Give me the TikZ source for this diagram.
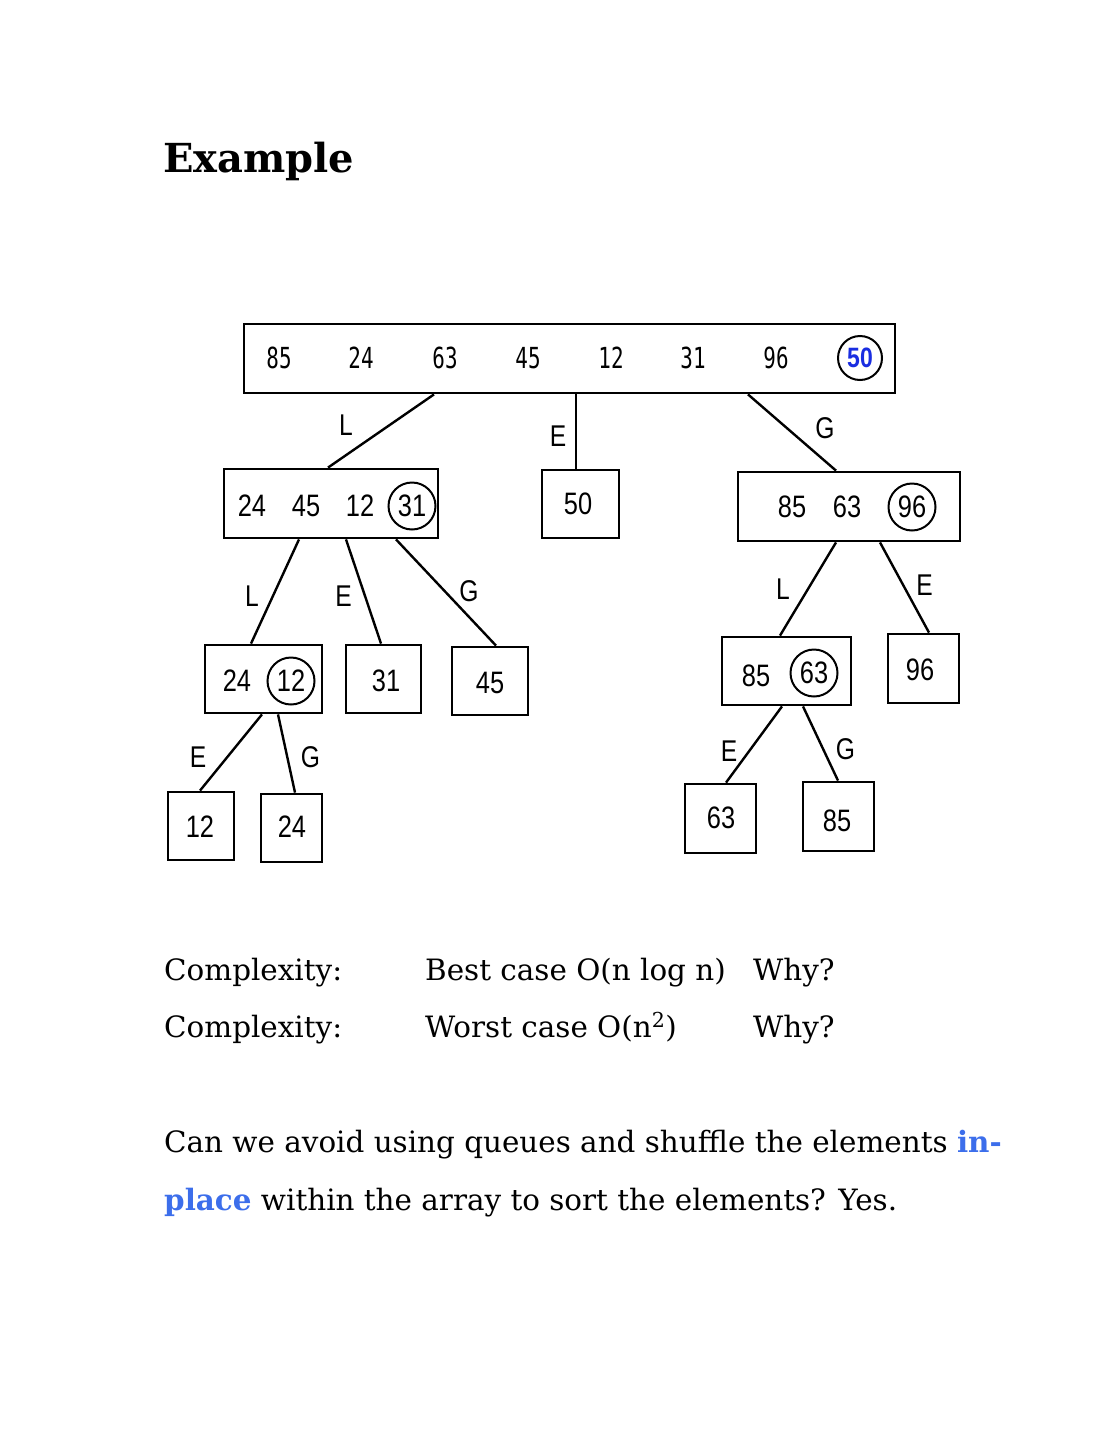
\documentclass[tikz,border=0pt]{standalone}
\usepackage{fontspec}
\setmainfont{DejaVu Serif}
\newfontfamily\numfont[FakeStretch=0.82]{Liberation Sans}
\newfontfamily\rowfont[FakeStretch=0.72]{DejaVu Sans Mono}
\usepackage{xcolor}
\definecolor{pivotblue}{RGB}{25, 45, 225}
\definecolor{inplaceblue}{RGB}{60, 110, 235}
\usetikzlibrary{positioning}

\tikzset{
    box/.style={draw, line width=2.8pt, inner sep=0pt},
    num/.style={font=\numfont\fontsize{31}{32}\selectfont, inner sep=0pt},
    rownum/.style={font=\rowfont\fontsize{29}{30}\selectfont, inner sep=0pt},
    ring/.style={draw, circle, line width=2pt, minimum size=47pt, inner sep=0pt},
    link/.style={line width=2.4pt},
    lab/.style={font=\numfont\fontsize{30}{32}\selectfont, inner sep=0pt},
    txt/.style={anchor=base west, inner sep=0pt, font=\fontsize{29.4}{36}\selectfont},
}

\begin{document}
\begin{tikzpicture}[x=1pt, y=-1pt]
    \useasboundingbox (0,0) rectangle (1113,1440);

    % Title
    \node[anchor=base west, inner sep=0pt, font=\fontsize{40}{48}\selectfont\bfseries] (title) at (163,172) {Example};

    % Input array, pivot circled
    \node[box, minimum width=651pt, minimum height=69pt] (arr) at (569.5,358.5) {};
    \foreach \x/\v in {279/85, 361/24, 445/63, 528/45, 611/12, 693/31, 776/96} {
        \node[rownum] at (\x,358) {\v};
    }
    \node[ring, minimum size=44pt, text=pivotblue, font=\numfont\fontsize{28}{30}\selectfont\bfseries] (p50) at (860,358) {50};

    % Second level
    \node[box, minimum width=214pt, minimum height=69pt] (lo) at (331,503.5) {};
    \foreach \x/\v in {252/24, 306/45, 360/12} {
        \node[num] at (\x,506) {\v};
    }
    \node[ring, num] (p31) at (412,506) {31};

    \node[box, minimum width=77pt, minimum height=68pt] (eq) at (580.5,504) {};
    \node[num] at (578,504) {50};

    \node[box, minimum width=222pt, minimum height=69pt] (hi) at (849,506.5) {};
    \foreach \x/\v in {792/85, 847/63} {
        \node[num] at (\x,507) {\v};
    }
    \node[ring, num] (p96) at (912,507) {96};

    % Third level
    \node[box, minimum width=117pt, minimum height=68pt] (lolo) at (263.5,679) {};
    \node[num] at (237,681) {24};
    \node[ring, num] (p12) at (291,681) {12};
    \node[box, minimum width=75pt, minimum height=68pt] (loeq) at (383.5,679) {};
    \node[num] at (386,681) {31};
    \node[box, minimum width=76pt, minimum height=68pt] (logt) at (490,681) {};
    \node[num] at (490,683) {45};

    \node[box, minimum width=129pt, minimum height=68pt] (hilo) at (786.5,671) {};
    \node[num] at (756,676) {85};
    \node[ring, num] (p63) at (814,673) {63};
    \node[box, minimum width=71pt, minimum height=69pt] (hieq) at (923.5,668.5) {};
    \node[num] at (920,670) {96};

    % Fourth level
    \node[box, minimum width=66pt, minimum height=68pt] (lololo) at (201,826) {};
    \node[num] at (200,827) {12};
    \node[box, minimum width=61pt, minimum height=68pt] (lologt) at (291.5,828) {};
    \node[num] at (292,827) {24};
    \node[box, minimum width=71pt, minimum height=69pt] (hiloeq) at (720.5,818.5) {};
    \node[num] at (721,818) {63};
    \node[box, minimum width=71pt, minimum height=69pt] (hilogt) at (838.5,816.5) {};
    \node[num] at (837,821) {85};

    % Partition links
    \draw[link] ([xshift=-135.5pt]arr.south) -- node[lab, xshift=-35pt, yshift=6pt] {L} ([xshift=-3pt]lo.north);
    \draw[link] ([xshift=6.5pt]arr.south) -- node[lab, xshift=-18pt, yshift=-5pt] {E} ([xshift=-4.5pt]eq.north);
    \draw[link] ([xshift=178.5pt]arr.south) -- node[lab, xshift=33pt, yshift=4pt] {G} ([xshift=-13pt]hi.north);

    \draw[link] ([xshift=-32pt]lo.south) -- node[lab, xshift=-23pt, yshift=-5pt] {L} ([xshift=-12.5pt]lolo.north);
    \draw[link] ([xshift=15pt]lo.south) -- node[lab, xshift=-20pt, yshift=-5pt] {E} ([xshift=-2.5pt]loeq.north);
    \draw[link] ([xshift=65pt]lo.south) -- node[lab, xshift=23pt, yshift=1pt] {G} ([xshift=6pt]logt.north);

    \draw[link] ([xshift=-13pt]hi.south) -- node[lab, xshift=-25pt] {L} ([xshift=-6.5pt]hilo.north);
    \draw[link] ([xshift=31pt]hi.south) -- node[lab, xshift=20pt, yshift=2pt] {E} ([xshift=5.5pt]hieq.north);

    \draw[link] ([xshift=-1.5pt]lolo.south) -- node[lab, xshift=-33pt, yshift=-5pt] {E} ([xshift=-1pt]lololo.north);
    \draw[link] ([xshift=14.5pt]lolo.south) -- node[lab, xshift=24pt, yshift=-4pt] {G} ([xshift=3.5pt]lologt.north);

    \draw[link] ([xshift=-4.5pt]hilo.south) -- node[lab, xshift=-25pt, yshift=-7pt] {E} ([xshift=5.5pt]hiloeq.north);
    \draw[link] ([xshift=16.5pt]hilo.south) -- node[lab, xshift=25pt, yshift=-6pt] {G} ([xshift=-0.5pt]hilogt.north);

    % Complexity
    \node[txt] (cx1) at (164,980) {Complexity:};
    \node[txt] (best) at (425,980) {Best case O(n log n)};
    \node[txt] (why1) at (753,980) {Why?};
    \node[txt] (cx2) at (164,1037) {Complexity:};
    \node[txt] (worst) at (425,1037) {Worst case O(n\textsuperscript{2})};
    \node[txt] (why2) at (753,1037) {Why?};

    % Closing question
    \node[txt] (q1) at (164,1152) {Can we avoid using queues and shuffle the elements \textcolor{inplaceblue}{\bfseries in-}};
    \node[txt] (q2) at (164,1210) {\textcolor{inplaceblue}{\bfseries place} within the array to sort the elements? Yes.};
\end{tikzpicture}
\end{document}
